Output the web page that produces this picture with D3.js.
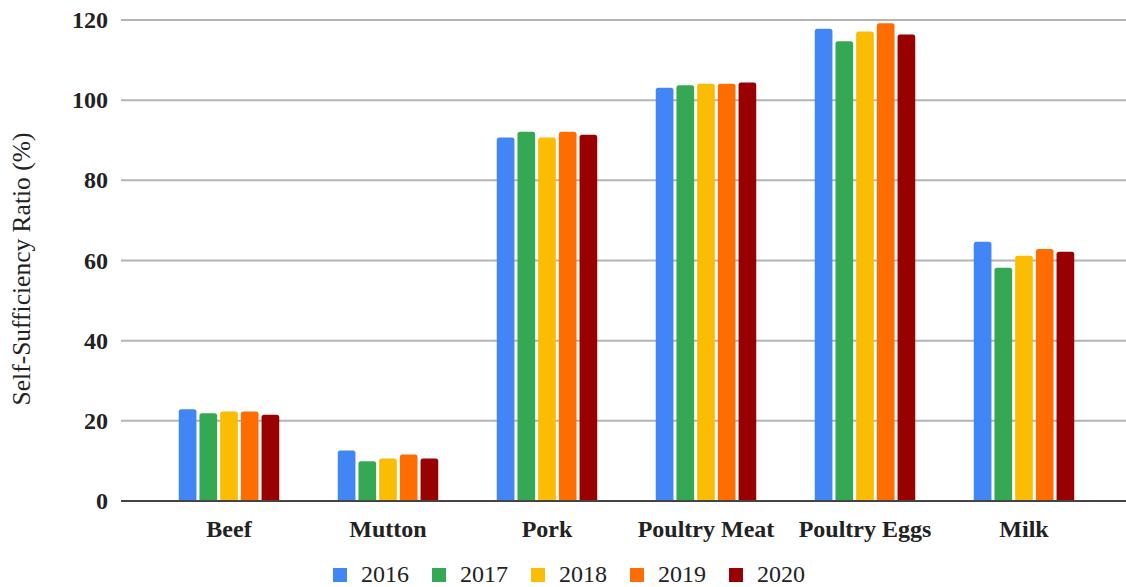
<!DOCTYPE html>
<html>
<head>
<meta charset="utf-8">
<script src="https://cdn.jsdelivr.net/npm/d3@7"></script>
<style>
  html, body { margin: 0; padding: 0; background: #fff; }
  svg { display: block; }
</style>
</head>
<body>
<svg id="chart" width="1126" height="587"></svg>
<script>
const categories = ["Beef", "Mutton", "Pork", "Poultry Meat", "Poultry Eggs", "Milk"];
const years = ["2016", "2017", "2018", "2019", "2020"];
const colors = ["#4285F4", "#34A853", "#FBBC04", "#FF6D01", "#990000"];
const v2016 = [22.9, 12.6, 90.7, 103.1, 117.8, 64.7];
const v2017 = [21.9, 9.9, 92.1, 103.7, 114.7, 58.2];
const v2018 = [22.3, 10.6, 90.7, 104.1, 117.1, 61.2];
const v2019 = [22.3, 11.6, 92.1, 104.1, 119.2, 62.9];
const v2020 = [21.5, 10.6, 91.4, 104.4, 116.4, 62.2];
const yTicks = [0, 20, 40, 60, 80, 100, 120];
const yTitle = "Self-Sufficiency Ratio (%)";

const FONT = "'Liberation Serif', 'Times New Roman', Times, 'DejaVu Serif', serif";
const series = [v2016, v2017, v2018, v2019, v2020];
const svg = d3.select("#chart").attr("font-family", FONT).style("font-family", FONT);

const y = d3.scaleLinear().domain([0, 120]).range([501, 20]);
const x0 = d3.scaleBand().domain(categories).range([149.5, 1103.5]).paddingInner(0.368).paddingOuter(0.184);
const x1 = d3.scaleBand().domain(years).range([0, x0.bandwidth()]).paddingInner(0.145).paddingOuter(0);
const gridLeft = 121, gridRight = 1126;

// gridlines
svg.append("g").selectAll("line").data(yTicks.filter(d => d !== 0)).join("line")
  .attr("x1", gridLeft).attr("x2", gridRight)
  .attr("y1", d => y(d)).attr("y2", d => y(d))
  .attr("stroke", "#b4b4b4").attr("stroke-width", 2);

// y tick labels
svg.append("g").selectAll("text").data(yTicks).join("text")
  .attr("x", 108).attr("y", d => y(d))
  .attr("dy", "0.34em")
  .attr("text-anchor", "end")
  .attr("font-size", 24).attr("font-weight", "bold").attr("fill", "#222")
  .style("font-family", FONT)
  .text(d => d);

// y title
svg.append("text")
  .attr("transform", "translate(30,269) rotate(-90)")
  .attr("text-anchor", "middle")
  .attr("font-size", 25.5).attr("fill", "#222")
  .style("font-family", FONT)
  .text(yTitle);

// bars
const r = 2.5;
function barPath(xl, w, yt, yb) {
  const rr = Math.min(r, w / 2, (yb - yt));
  return `M${xl},${yb}V${yt + rr}Q${xl},${yt} ${xl + rr},${yt}H${xl + w - rr}Q${xl + w},${yt} ${xl + w},${yt + rr}V${yb}Z`;
}
const groups = svg.append("g").selectAll("g").data(categories).join("g")
  .attr("transform", c => `translate(${x0(c)},0)`);
groups.selectAll("path").data((c, ci) => years.map((yr, si) => ({ yr, si, v: series[si][ci] }))).join("path")
  .attr("d", d => barPath(x1(d.yr), x1.bandwidth(), y(d.v), y(0)))
  .attr("fill", d => colors[d.si]);

// baseline
svg.append("line")
  .attr("x1", gridLeft).attr("x2", gridRight)
  .attr("y1", y(0)).attr("y2", y(0))
  .attr("stroke", "#444").attr("stroke-width", 2);

// category labels
svg.append("g").selectAll("text").data(categories).join("text")
  .attr("x", c => x0(c) + x0.bandwidth() / 2).attr("y", 537)
  .attr("text-anchor", "middle")
  .attr("font-size", 24).attr("font-weight", "bold").attr("fill", "#222")
  .style("font-family", FONT)
  .text(c => c);

// legend
const lx = d3.scaleBand().domain(years).range([333, 333 + 99 * 5]);
const leg = svg.append("g").selectAll("g").data(years).join("g")
  .attr("transform", d => `translate(${lx(d)},0)`);
leg.append("rect").attr("x", 0).attr("y", 568).attr("width", 14).attr("height", 14)
  .attr("fill", (d, i) => colors[i]);
leg.append("text").attr("x", 28).attr("y", 582)
  .attr("font-size", 24).attr("fill", "#222")
  .style("font-family", FONT)
  .text(d => d);
</script>
</body>
</html>
